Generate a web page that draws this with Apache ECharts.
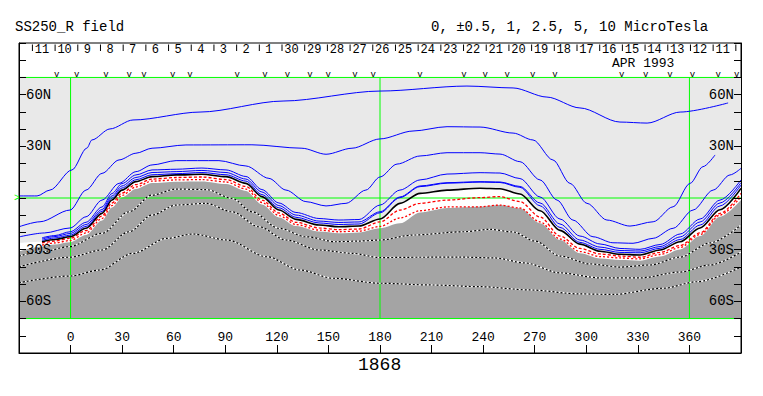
<!DOCTYPE html>
<html><head><meta charset="utf-8">
<script src="https://cdn.jsdelivr.net/npm/echarts@6/dist/echarts.min.js"></script>
<style>html,body{margin:0;padding:0;background:#fff}#c{width:763px;height:396px}</style>
</head><body><div id="c"></div>
<script>
// ---------------- data (longitude deg, latitude deg) ----------------
const lonTicks = [0, 30, 60, 90, 120, 150, 180, 210, 240, 270, 300, 330, 360];
const latLabelValues = [60, 30, -30, -60];
const latLabelText = ['60N', '30N', '30S', '60S'];

// date strip (Carrington longitude of each day boundary) and its labels
const dayLon = [-22.2, -9.0, 4.2, 17.4, 30.6, 43.8, 57.0, 70.2, 83.4, 96.6, 109.8, 123.0, 136.2, 149.4, 162.6, 175.8,
  189.0, 202.2, 215.4, 228.6, 241.8, 255.0, 268.2, 281.4, 294.6, 307.8, 321.0, 334.2, 347.4, 360.6, 373.8, 387.0];
const dayLabel = ['11','10','9','8','7','6','5','4','3','2','1','30','29','28','27','26','25','24','23','22','21','20',
  '19','18','17','16','15','14','13','12','11',''];
// observation markers ("v") along the top
const vLon = [-8.1, 3.5, 20.6, 34.1, 42.7, 59.4, 69.5, 97.0, 113.1, 126.1, 139.3, 149.9, 165.4, 176.1, 203.3, 228.9,
  241.2, 254.0, 268.8, 281.8, 320.6, 334.6, 348.7, 361.7, 376.8, 387.5];

// upper blue contours
const b1 = [[-30,1.2],[-19.5,1.2],[-12.0,4.6],[0.8,16.3],[9.5,29.0],[12.4,33.7],[22.9,40.1],[36.3,45.3],[75.3,49.9],
  [123.6,56.3],[180.0,62.1],[230.6,65.0],[257.4,63.9],[277.1,58.6],[296.3,52.3],[319.6,44.1],[335.4,43.5],[354.6,49.9],[382.5,55.2]];
const b2 = [[-30,-16.7],[-17.8,-13.8],[-0.3,-7.0],[9.0,4.6],[18.3,14.3],[28.2,22.1],[38.0,26.0],[47.4,28.9],[67.1,30.8],
  [105.5,30.9],[134.6,28.9],[148.6,25.4],[163.7,28.9],[180.0,34.3],[199.2,38.9],[219.0,41.4],[238.2,41.2],[257.4,37.7],
  [269.0,33.7],[280.6,22.1],[290.5,8.5],[300.4,-3.1],[312.0,-12.8],[325.4,-16.3],[338.9,-13.8],[350.5,-5.1],[360.4,8.5],
  [367.9,18.2],[374.9,25.0]];
const b3 = [[-30,-22.6],[-15.2,-20.3],[-0.3,-17.4],[9.0,-10.9],[18.3,-1.2],[28.2,8.5],[38.0,15.3],[47.4,19.2],[61.4,21.7],
  [86.3,21.7],[102.0,18.6],[115.4,11.4],[125.3,4.6],[136.9,-2.1],[148.6,-4.6],[160.2,-3.1],[171.8,4.6],[180.0,12.2],
  [189.9,19.7],[203.3,24.4],[219.0,26.3],[238.2,26.3],[249.8,25.5],[261.4,21.1],[273.1,10.5],[283.0,-1.2],[292.2,-12.8],
  [303.9,-22.5],[315.5,-26.0],[327.2,-26.3],[338.9,-23.4],[350.5,-17.6],[362.1,-7.0],[373.8,4.6],[383.6,13.4],[390,17.2]];

// neutral-line band, all sampled at bandLon
const bandLon = [-16.6, -9.1, -0.3, 9.0, 18.3, 24.1, 29.9, 38.0, 47.4, 61.4, 76.4, 90.4, 102.0, 111.3, 121.2, 131.1, 144.5,
  156.1, 167.8, 180.0, 191.6, 203.3, 219.0, 238.2, 249.8, 261.4, 273.1, 284.7, 296.3, 308.0, 319.6, 331.3, 342.9, 354.6,
  366.2, 377.8, 390];
const b4Lat = [-23.1, -21.8, -19.6, -14.1, -5.2, 2.6, 8.4, 13.4, 16.3, 16.7, 17.4, 16.3, 12.5, 4.9, -2.9, -8.4, -11.9, -12.8,
  -12.5, -4.1, 4.6, 10.5, 13.9, 14.7, 14.5, 11.3, 0.6, -12.2, -22.1, -26.7, -29.3, -29.8, -27.0, -20.9, -12.2, -1.2, 10.5];
const b5Lat = [-23.8, -22.4, -20.6, -15.4, -6.7, 1.2, 7.0, 11.9, 14.8, 15.3, 16.0, 14.8, 11.0, 3.5, -4.4, -9.9, -13.4, -14.2,
  -13.9, -8.0, 0.6, 7.0, 8.9, 9.5, 9.3, 6.7, -2.9, -15.1, -24.4, -28.5, -30.5, -30.8, -28.2, -22.6, -13.9, -2.9, 8.9];
const b6Lat = [-24.6, -23.2, -21.6, -16.5, -7.8, 0.0, 5.8, 10.6, 13.5, 14.1, 14.8, 13.5, 9.8, 2.0, -5.7, -11.2, -14.5, -15.4,
  -15.1, -8.6, 0.2, 6.6, 8.6, 9.2, 9.0, 6.2, -4.5, -17.1, -25.8, -29.8, -31.6, -31.8, -29.2, -24.1, -15.7, -4.6, 7.5];
const kLat = [-25.4, -24.1, -22.5, -17.6, -8.9, -1.2, 4.6, 9.5, 12.4, 13.4, 13.8, 12.4, 8.5, 0.8, -7.0, -12.4, -15.7, -16.7,
  -16.3, -12.2, -3.1, 2.7, 4.6, 5.7, 5.4, 2.3, -7.4, -18.8, -26.8, -30.9, -32.7, -33.1, -30.2, -25.4, -17.4, -6.8, 5.6];
const r1Lat = [-26.1, -25.0, -23.4, -18.9, -10.5, -2.9, 2.9, 7.8, 11.0, 11.9, 12.2, 10.7, 6.7, -1.2, -8.7, -14.1, -17.4, -18.4,
  -18.0, -13.9, -7.0, -3.1, -1.2, 0.2, 0.8, -2.1, -11.0, -22.1, -29.3, -32.5, -33.7, -34.4, -31.6, -27.6, -20.3, -8.9, 2.7];
const r2Lat = [-27.3, -26.1, -24.7, -20.3, -11.9, -4.4, 1.5, 6.4, 9.8, 10.5, 10.7, 9.3, 5.2, -2.6, -10.2, -15.4, -18.6, -19.6,
  -19.2, -16.5, -11.6, -7.4, -5.2, -5.1, -4.1, -5.8, -13.9, -23.8, -31.1, -34.0, -34.8, -35.4, -32.8, -28.7, -21.2, -9.9, 0.8];
const gLat = [-28.2, -27.0, -25.7, -21.5, -13.1, -5.5, 0.3, 5.2, 8.7, 9.5, 9.6, 8.1, 4.1, -3.8, -11.3, -16.3, -19.5, -20.5,
  -20.0, -17.6, -14.7, -8.4, -5.8, -5.1, -4.1, -6.0, -14.7, -24.4, -32.1, -35.1, -36.0, -36.4, -34.0, -29.9, -22.1, -10.9, -1.2];
const gLeftEdge = [-30, -31.1];      // dark region boundary at the left border
const whiteLeftEdge = [-30, -26.1];  // top of white strip at the left border

// negative contours inside the dark region
const d1 = [[-30,-33.7],[-16.6,-31.2],[-0.9,-28.3],[18.3,-20.5],[34.0,-8.0],[47.4,1.7],[61.4,5.2],[78.8,4.9],[93.9,-0.2],
  [105.5,-8.0],[121.2,-17.6],[136.9,-22.5],[154.4,-25.4],[167.8,-25.0],[180.0,-24.4],[199.2,-21.5],[228.3,-19.6],[243.9,-18.2],
  [257.4,-19.7],[270.2,-25.0],[284.7,-33.7],[302.1,-38.3],[319.6,-40.1],[337.1,-38.9],[354.6,-34.3],[372.0,-26.1],[390,-15.7]];
const d2 = [[-30,-39.9],[-0.9,-34.4],[18.3,-30.2],[34.0,-19.6],[47.4,-9.9],[61.4,-4.1],[78.8,-3.1],[93.9,-8.0],[109.6,-16.7],
  [125.3,-24.4],[144.5,-30.2],[163.7,-32.1],[180.0,-34.6],[203.3,-34.4],[226.5,-34.3],[246.8,-34.8],[264.3,-37.7],[284.7,-43.5],
  [308.0,-46.4],[331.3,-46.4],[354.6,-43.0],[372.0,-38.9],[390,-31.4]];
const d3 = [[-30,-49.2],[-0.3,-45.3],[17.1,-41.8],[36.3,-32.1],[56.1,-23.4],[71.2,-20.9],[91.0,-24.4],[114.2,-34.1],
  [133.4,-41.8],[152.6,-46.6],[180.0,-49.5],[209.1,-50.5],[238.2,-51.5],[267.3,-53.4],[296.3,-55.7],[315.5,-56.0],
  [344.7,-52.4],[364.4,-48.6],[390,-40.1]];

const plotLatMax = 70, plotLatMin = -70;
const lonMin = -30, lonMax = 390;
const greenLons = [0, 180, 360];
const greenLats = [0, 70, -70];

// ---------------- chart ----------------
const FONT = 'Liberation Mono';
const pairs = (lats) => bandLon.map((l, i) => [l, lats[i]]);
const SM = 0.3;

function contour(data, color, width, type, z) {
  return { type: 'line', data: data, symbol: 'none', showSymbol: false, smooth: SM, smoothMonotone: 'x',
    lineStyle: { color: color, width: width, type: type || 'solid' }, z: z || 5, silent: true, animation: false };
}
function straight(data, color, z) {
  return { type: 'line', data: data, symbol: 'none', showSymbol: false, smooth: false,
    lineStyle: { color: color, width: 1, type: 'solid' }, z: z, silent: true, animation: false };
}
function area(data, color, z) {
  return { type: 'line', data: data, symbol: 'none', showSymbol: false, smooth: SM, smoothMonotone: 'x',
    lineStyle: { width: 0, opacity: 0 }, areaStyle: { color: color, opacity: 1, origin: plotLatMin }, z: z, silent: true, animation: false };
}

const greenSeries = [];
greenLons.forEach(l => greenSeries.push(straight([[l, plotLatMin], [l, plotLatMax]], '#00ff00', 4)));
greenLats.forEach(a => greenSeries.push(straight([[lonMin, a], [lonMax, a]], '#00ff00', 4)));

function latLabel(v) {
  const i = latLabelValues.indexOf(v);
  return i >= 0 ? latLabelText[i] : '';
}
const yAxisBase = {
  type: 'value', min: -90, max: 90, interval: 10,
  axisLine: { show: true, onZero: false, lineStyle: { color: '#000', width: 1 } },
  axisTick: { show: true, inside: true, length: 7, lineStyle: { color: '#000' } },
  splitLine: { show: false },
  axisLabel: { inside: true, margin: 7, fontFamily: FONT, fontSize: 14, color: '#000', formatter: latLabel },
  z: 10
};
const titleStyle = (size, lh) => ({ fontFamily: FONT, fontSize: size, fontWeight: 'normal', color: '#000', lineHeight: lh || size });

const option = {
  animation: false,
  grid: { left: 19, right: 22, top: 43, bottom: 43, show: true, borderColor: '#000', borderWidth: 1, backgroundColor: '#fff' },
  title: [
    { text: 'SS250_R field', left: 15, top: 20, padding: 0, textStyle: titleStyle(14) },
    { text: '0, \u00b10.5, 1, 2.5, 5, 10 MicroTesla', left: 431, top: 20, padding: 0, textStyle: titleStyle(14) },
    { text: 'APR 1993', left: 612, top: 57, padding: 0, textStyle: titleStyle(13, 12) },
    { text: '1868', left: 358, top: 356, padding: 0, textStyle: titleStyle(18) }
  ],
  xAxis: {
    type: 'value', min: lonMin, max: lonMax, interval: 30, position: 'bottom',
    axisLine: { show: true, onZero: false, lineStyle: { color: '#000', width: 1 } },
    axisTick: { show: true, inside: true, length: 8, lineStyle: { color: '#000' } },
    splitLine: { show: false },
    axisLabel: { inside: true, margin: 9, fontFamily: FONT, fontSize: 13, color: '#000',
      formatter: v => (lonTicks.indexOf(v) >= 0 ? String(v) : '') },
    z: 10
  },
  yAxis: [
    Object.assign({}, yAxisBase, { position: 'left' }),
    Object.assign({}, yAxisBase, { position: 'right' })
  ],
  graphic: [
    { type: 'text', left: 14, top: 193, style: { text: '>', fill: '#00ff00', fontSize: 10, fontFamily: FONT } }
  ],
  series: [
    // fills
    area([[lonMin, plotLatMax], [lonMax, plotLatMax]], '#e9e9e9', 1),
    area([whiteLeftEdge].concat(pairs(kLat)), '#ffffff', 2),
    area([gLeftEdge].concat(pairs(gLat)), '#a4a4a4', 3)
  ].concat(greenSeries).concat([
    // negative contours (black with white gaps)
    contour(d1, '#ffffff', 1.2), contour(d1, '#000000', 1.2, [2, 2], 6),
    contour(d2, '#ffffff', 1.2), contour(d2, '#000000', 1.2, [2, 2], 6),
    contour(d3, '#ffffff', 1.2), contour(d3, '#000000', 1.2, [2, 2], 6),
    // red dashed
    contour(pairs(r2Lat), '#ff0000', 1.3, [2, 2]),
    contour(pairs(r1Lat), '#ff0000', 1.3, [3, 2]),
    // neutral line
    contour(pairs(kLat), '#000000', 1.6),
    // blue contours
    contour(pairs(b6Lat), '#0000ff', 1),
    contour(pairs(b5Lat), '#0000ff', 1),
    contour(pairs(b4Lat), '#0000ff', 1),
    contour(b3, '#0000ff', 1),
    contour(b2, '#0000ff', 1),
    contour(b1, '#0000ff', 1),
    // date strip
    { type: 'custom', z: 7, silent: true, clip: false, animation: false,
      data: dayLon.map(l => [l, 90]),
      renderItem: function (params, api) {
        const p = api.coord([api.value(0), api.value(1)]);
        return { type: 'group', children: [
          { type: 'line', shape: { x1: p[0], y1: p[1] + 1.5, x2: p[0], y2: p[1] + 8 }, style: { stroke: '#000', lineWidth: 1 } },
          { type: 'text', x: p[0] + 9.5, y: p[1] + 7,
            style: { text: dayLabel[params.dataIndex], fill: '#000', fontSize: 12, lineHeight: 10, fontFamily: FONT, align: 'center', verticalAlign: 'middle' } }
        ] };
      } },
    { type: 'custom', z: 7, silent: true, clip: false, animation: false,
      data: vLon.map(l => [l, plotLatMax]),
      renderItem: function (params, api) {
        const p = api.coord([api.value(0), api.value(1)]);
        return { type: 'text', x: p[0], y: p[1] - 2,
          style: { text: 'v', fill: '#000', fontSize: 9, lineHeight: 7, fontFamily: FONT, align: 'center', verticalAlign: 'middle' } };
      } }
  ])
};

const chart = echarts.init(document.getElementById('c'), null, { renderer: 'svg', width: 763, height: 396 });
chart.setOption(option);
</script>
</body></html>
